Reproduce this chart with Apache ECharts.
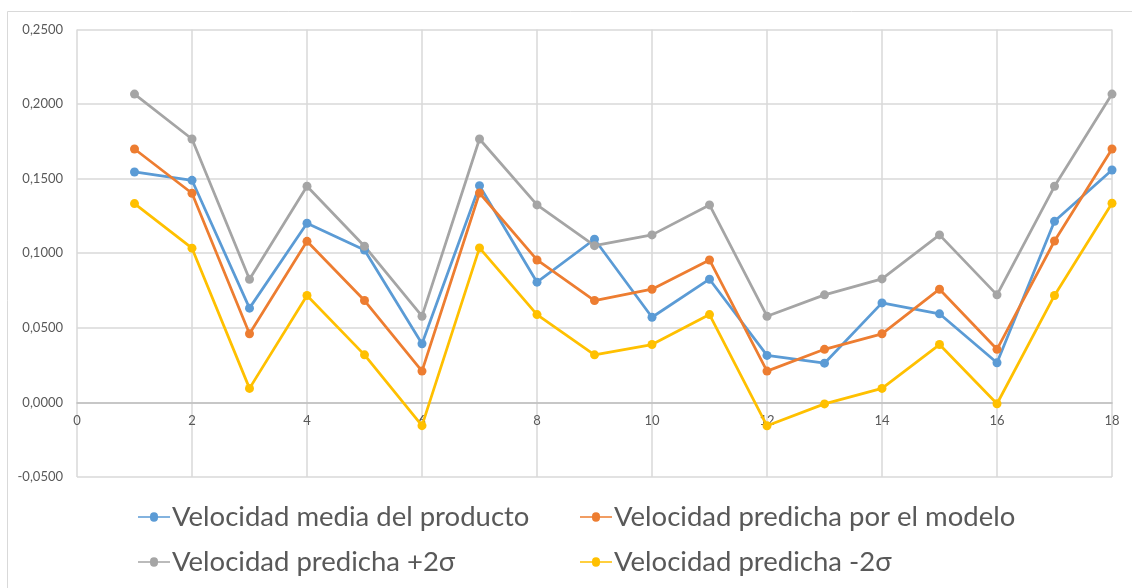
<!DOCTYPE html>
<html>
<head>
<meta charset="utf-8">
<script src="https://cdn.jsdelivr.net/npm/echarts@6/dist/echarts.min.js"></script>
<style>
  html, body { margin: 0; padding: 0; background: #ffffff; }
  #chart { width: 1132px; height: 588px; }
</style>
</head>
<body>
<div id="chart"></div>
<script>
// Observation index (x) for each point
const puntos = [1, 2, 3, 4, 5, 6, 7, 8, 9, 10, 11, 12, 13, 14, 15, 16, 17, 18];

const nombres = [
  'Velocidad media del producto',
  'Velocidad predicha por el modelo',
  'Velocidad predicha +2σ',
  'Velocidad predicha -2σ'
];

const velocidadMedia = [0.1545, 0.1489, 0.0632, 0.1201, 0.1022, 0.0393, 0.1453, 0.0806, 0.1094,
  0.0571, 0.0826, 0.0315, 0.0263, 0.0667, 0.0594, 0.0266, 0.1214, 0.1558];
const velocidadPredicha = [0.1699, 0.1402, 0.0460, 0.1080, 0.0683, 0.0210, 0.1404, 0.0955, 0.0683,
  0.0759, 0.0955, 0.0210, 0.0356, 0.0460, 0.0759, 0.0356, 0.1082, 0.1699];
const predichaMas2s = [0.2067, 0.1766, 0.0826, 0.1449, 0.1047, 0.0578, 0.1766, 0.1324, 0.1051,
  0.1123, 0.1324, 0.0578, 0.0721, 0.0828, 0.1123, 0.0721, 0.1449, 0.2067];
const predichaMenos2s = [0.1333, 0.1034, 0.0094, 0.0717, 0.0319, -0.0156, 0.1036, 0.0589, 0.0319,
  0.0388, 0.0589, -0.0157, -0.0010, 0.0094, 0.0388, -0.0009, 0.0717, 0.1335];

const colores = ['#5B9BD5', '#ED7D31', '#A5A5A5', '#FFC000'];
const valores = [velocidadMedia, velocidadPredicha, predichaMas2s, predichaMenos2s];

const fuente = 'Lato, "Open Sans", sans-serif';
const gris = '#d9d9d9';

// plot box
const GRID_TOP = 29.5, GRID_BOTTOM = 111, CHART_H = 588;
const Y_MIN = -0.05, Y_MAX = 0.25;
// the horizontal axis crosses the vertical one at y = 0
const plotH = CHART_H - GRID_TOP - GRID_BOTTOM;
const xAxisOffset = -plotH * (0 - Y_MIN) / (Y_MAX - Y_MIN);

const chart = echarts.init(document.getElementById('chart'), null, { renderer: 'canvas' });

const series = nombres.map((n, i) => ({
  name: n,
  type: 'line',
  data: puntos.map((x, k) => [x, valores[i][k]]),
  symbol: 'circle',
  symbolSize: 9,
  showSymbol: true,
  lineStyle: { width: 2.75, color: colores[i] },
  itemStyle: { color: colores[i] },
  emphasis: { disabled: true },
  animation: false
}));

// one legend block per entry so the two columns line up
const legendPos = [
  { left: 138, top: 503 },
  { left: 580, top: 503 },
  { left: 138, top: 548 },
  { left: 580, top: 548 }
];
const legends = nombres.map((n, i) => ({
  data: [{ name: n, icon: 'path://M0,4.2 L12,4.2 A4,4 0 0 1 20,4.2 L32,4.2 L32,5.8 L20,5.8 A4,4 0 0 1 12,5.8 L0,5.8 Z' }],
  left: legendPos[i].left,
  top: legendPos[i].top,
  padding: 0,
  itemWidth: 32,
  itemHeight: 10,
  itemGap: 0,
  selectedMode: false,
  textStyle: { fontFamily: fuente, fontSize: 27.5, color: '#595959', padding: [0, 0, 0, -3] }
}));

chart.setOption({
  backgroundColor: '#ffffff',
  animation: false,
  color: colores,
  graphic: [{
    type: 'rect',
    shape: { x: 7.5, y: 11.5, width: 1140, height: 600 },
    style: { fill: 'none', stroke: '#d9d9d9', lineWidth: 1 },
    silent: true,
    z: -1
  }],
  legend: legends,
  grid: { left: 77, right: 20, top: GRID_TOP, bottom: GRID_BOTTOM, containLabel: false },
  xAxis: {
    type: 'value',
    min: 0,
    max: 18,
    interval: 2,
    offset: xAxisOffset,
    axisLine: { show: true, onZero: false, lineStyle: { color: '#bfbfbf', width: 1.5 } },
    axisTick: { show: false },
    axisLabel: { fontFamily: fuente, fontSize: 13, color: '#595959', margin: 12 },
    splitLine: { show: true, lineStyle: { color: gris, width: 1.5 } }
  },
  yAxis: {
    type: 'value',
    min: Y_MIN,
    max: Y_MAX,
    interval: 0.05,
    axisLine: { show: false, onZero: false },
    axisTick: { show: false },
    axisLabel: {
      fontFamily: fuente, fontSize: 13, color: '#595959', margin: 14,
      formatter: v => v.toFixed(4).replace('.', ',')
    },
    splitLine: { show: true, lineStyle: { color: gris, width: 1.5 } }
  },
  series: series
});
</script>
</body>
</html>
